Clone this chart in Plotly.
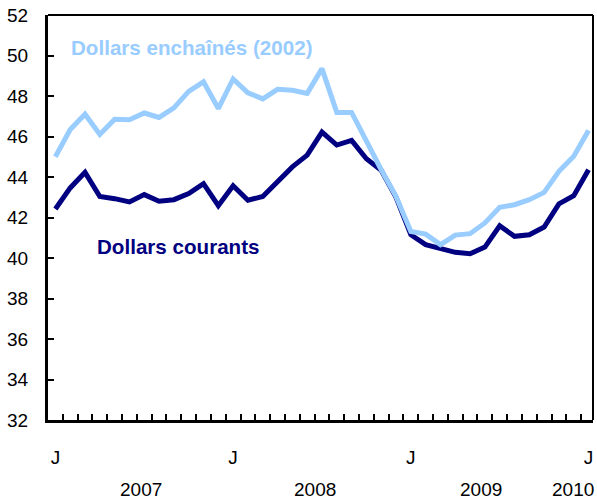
import plotly.graph_objects as go

# Monthly series, January 2007 to January 2010 (37 months)
months = list(range(37))
chained_2002 = [45.0, 46.34, 47.1, 46.1, 46.85, 46.83, 47.16, 46.94, 47.41, 48.23, 48.7, 47.38,
                48.84, 48.16, 47.86, 48.33, 48.28, 48.13, 49.35, 47.19, 47.19, 45.76, 44.36, 43.04,
                41.31, 41.18, 40.66, 41.13, 41.2, 41.73, 42.5, 42.63, 42.88, 43.24, 44.28, 45.02, 46.3]
current_dollars = [42.42, 43.46, 44.23, 43.04, 42.93, 42.77, 43.13, 42.8, 42.88, 43.18, 43.67, 42.58,
                   43.57, 42.85, 43.04, 43.76, 44.5, 45.08, 46.22, 45.58, 45.81, 44.9, 44.33, 43.0,
                   41.15, 40.66, 40.49, 40.28, 40.21, 40.54, 41.59, 41.07, 41.15, 41.53, 42.67, 43.08, 44.36]
month_ticks = [0, 12, 24, 36]
month_tick_text = ["J", "J", "J", "J"]
years = ["2007", "2008", "2009", "2010"]
year_label_pos = [5.75, 17.55, 28.75, 34.95]
y_ticks = [32, 34, 36, 38, 40, 42, 44, 46, 48, 50, 52]

LIGHT = "#99CCFF"
DARK = "#000080"
FONT = "Liberation Sans, Arial, sans-serif"

fig = go.Figure()
fig.add_trace(go.Scatter(x=months, y=current_dollars, mode="lines",
                         line=dict(color=DARK, width=5), showlegend=False))
fig.add_trace(go.Scatter(x=months, y=chained_2002, mode="lines",
                         line=dict(color=LIGHT, width=5), showlegend=False))

fig.add_annotation(x=0.9, y=50.38, xref="x", yref="y", text="<b>Dollars enchaînés (2002)</b>",
                   showarrow=False, xanchor="left", yanchor="middle",
                   font=dict(family=FONT, size=20.6, color=LIGHT))
fig.add_annotation(x=2.65, y=40.56, xref="x", yref="y", text="<b>Dollars courants</b>",
                   showarrow=False, xanchor="left", yanchor="middle",
                   font=dict(family=FONT, size=20.6, color=DARK))

for yr, pos in zip(years, year_label_pos):
    fig.add_annotation(x=pos, y=-0.172, xref="x", yref="paper", text=yr, showarrow=False,
                       xanchor="center", yanchor="middle",
                       font=dict(family=FONT, size=19, color="black"))

# top and right frame lines
fig.add_shape(type="line", xref="paper", yref="paper", x0=0, x1=1, y0=1, y1=1,
              line=dict(color="black", width=2))
fig.add_shape(type="line", xref="paper", yref="paper", x0=1, x1=1, y0=0, y1=1,
              line=dict(color="black", width=2))

fig.update_xaxes(range=[-0.5, 36.3], tickmode="array", tickvals=month_ticks,
                 ticktext=month_tick_text, ticks="", showgrid=False, zeroline=False,
                 showline=True, linecolor="black", linewidth=3,
                 ticklabelstandoff=18,
                 tickfont=dict(family=FONT, size=19, color="black"),
                 minor=dict(tickmode="array", tickvals=[i + 0.5 for i in range(36)],
                            ticks="inside", ticklen=6, tickwidth=2, tickcolor="black",
                            showgrid=False))
fig.update_yaxes(range=[32, 52], tickmode="array", tickvals=y_ticks, ticks="inside",
                 ticklen=6, tickwidth=2, tickcolor="black", showgrid=False, zeroline=False,
                 showline=True, linecolor="black", linewidth=3, ticklabelstandoff=13,
                 tickfont=dict(family=FONT, size=19, color="black"))

fig.update_layout(width=597, height=499, margin=dict(l=48, r=3.5, t=15, b=79),
                  plot_bgcolor="white", paper_bgcolor="white", hovermode=False)

fig.write_html("out.html", config={"displayModeBar": False, "staticPlot": True},
               post_script="document.body.style.margin='0';document.body.style.overflow='hidden';")
